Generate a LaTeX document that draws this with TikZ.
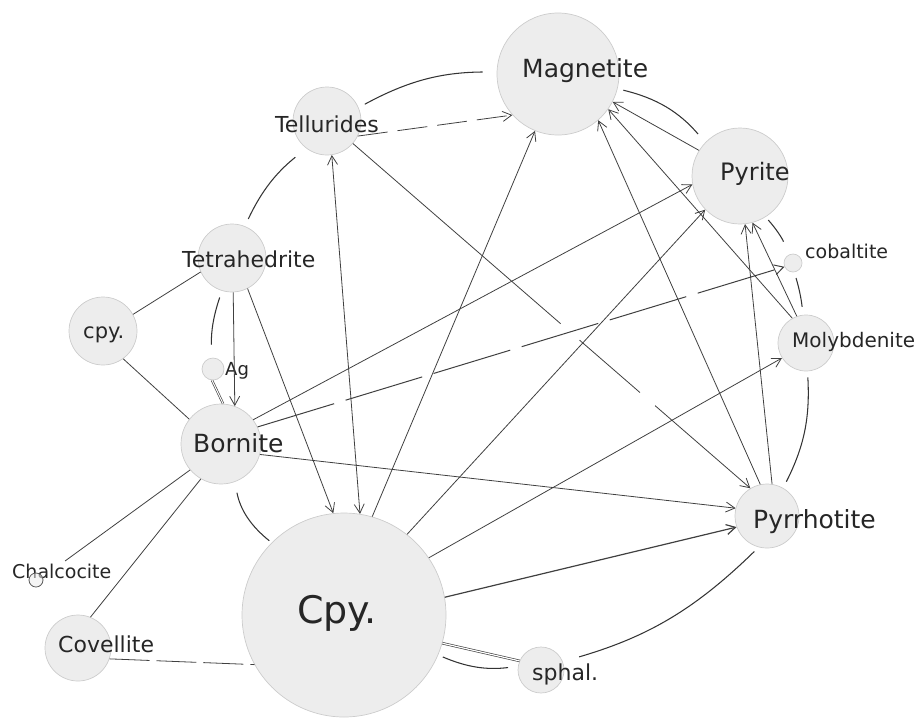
\documentclass[tikz,border=0pt]{standalone}
\usepackage{fontspec}
\setmainfont{DejaVu Sans}
\usetikzlibrary{arrows.meta}
\begin{document}
\begin{tikzpicture}[x=1pt,y=1pt,
  ball/.style={circle, fill=black!7, draw=black!20, line width=0.7pt, inner sep=0pt},
  lab/.style={anchor=base west, inner sep=0pt, text=black!85},
  ln/.style={draw=black!75, line width=0.8pt},
  ring/.style={draw=black!80, line width=1.05pt},
  arr/.style={-{Straight Barb[length=9pt,width=10pt]}},
  arrboth/.style={{Straight Barb[length=9pt,width=10pt]}-{Straight Barb[length=9pt,width=10pt]}},
]
\useasboundingbox (0,0) rectangle (917,-721);

% mineral circles
\node[ball, minimum size=122pt] (mag) at (558,-74) {};
\node[ball, minimum size=68pt] (tel) at (327,-121) {};
\node[ball, minimum size=96pt] (pyr) at (740,-176) {};
\node[ball, minimum size=18pt] (cob) at (793,-263) {};
\node[ball, minimum size=56pt] (mol) at (806,-343) {};
\node[ball, minimum size=64pt] (pyo) at (767,-516) {};
\node[ball, minimum size=68pt] (tet) at (232,-258) {};
\node[ball, minimum size=68pt] (cps) at (103,-331) {};
\node[ball, minimum size=22pt] (ag) at (213,-369) {};
\node[ball, minimum size=80pt] (bor) at (221,-444) {};
\node[ball, minimum size=66pt] (cov) at (78,-648) {};
\node[ball, minimum size=204pt] (cpy) at (344,-615) {};
\node[ball, minimum size=46pt] (sph) at (541,-670) {};

% labels
\node[lab, font=\fontsize{25}{30}\selectfont] (tmag) at (522,-77) {Magnetite};
\node[lab, font=\fontsize{22}{26}\selectfont] (ttel) at (275,-132) {Tellurides};
\node[lab, font=\fontsize{24}{28}\selectfont] (tpyr) at (720,-180) {Pyrite};
\node[lab, font=\fontsize{19}{22}\selectfont] (tcob) at (805,-258) {cobaltite};
\node[lab, font=\fontsize{20}{24}\selectfont] (tmol) at (792,-347) {Molybdenite};
\node[lab, font=\fontsize{25}{30}\selectfont] (tpyo) at (753,-528) {Pyrrhotite};
\node[lab, font=\fontsize{22}{26}\selectfont] (ttet) at (182,-267) {Tetrahedrite};
\node[lab, font=\fontsize{21}{25}\selectfont] (tcps) at (83,-338) {cpy.};
\node[lab, font=\fontsize{18}{22}\selectfont] (tag) at (225,-375) {Ag};
\node[lab, font=\fontsize{25}{30}\selectfont] (tbor) at (193,-452) {Bornite};
\node[lab, font=\fontsize{19}{22}\selectfont] (tchc) at (12,-578) {Chalcocite};
\node[lab, font=\fontsize{22}{26}\selectfont] (tcov) at (58,-652) {Covellite};
\node[lab, font=\fontsize{22}{26}\selectfont] (tsph) at (532,-680) {sphal.};
\node[lab, font=\fontsize{38}{44}\selectfont] (tcpy) at (297,-623) {Cpy.};

% small chalcocite circle drawn over its label
\node[ball, minimum size=14pt, draw=black!65, fill opacity=0.55, line width=0.8pt] (chc) at (36,-580) {};

% ring arcs
\draw[ring, shorten <=8pt, shorten >=14pt] (tet.68) to[bend left=13] (tel.233);
\draw[ring, shorten <=7pt, shorten >=14pt] (tel.23) to[bend left=14] (mag.178);
\draw[ring, shorten <=6pt, shorten >=11pt] (mag.-14) to[bend left=18] (pyr.136);
\draw[ring, shorten <=4pt, shorten >=14pt] (pyr.-58) to[bend left=10] (cob.118);
\draw[ring, shorten <=6pt, shorten >=8pt] (cob.-82) to[bend left=5] (mol.96);
\draw[ring, shorten <=6pt, shorten >=7pt] (mol.-87) to[bend left=15] (pyo.60);
\draw[ring, shorten <=6pt, shorten >=17pt] (pyo.-105) to[bend left=14] (sph.21);
\draw[ring, shorten <=10pt, shorten >=5pt] (sph.171) to[bend left=15] (cpy.-23);
\draw[ring, shorten <=3pt, shorten >=11pt] (cpy.135) to[bend left=20] (bor.-70);
\draw[ring, shorten <=13pt, shorten >=7pt] (ag.97) to[bend left=10] (tet.-107);

% double lines
\draw[ln, line width=0.65pt, double, double distance=1.2pt] (cpy.-16) -- (sph.157);
\draw[ln, line width=0.65pt, double, double distance=1pt] (bor.87) -- (ag.-95);

% plain lines
\draw[ln] (cps.29) -- (tet.204);
\draw[ln] (cps.-54) -- (bor.142);
\draw[ln, shorten >=4pt] (bor.220) -- (tchc.north);
\draw[ln] (bor.240) -- (cov.68);
\draw[ln, dash pattern=on 40pt off 7pt] (cov.-19) -- (cpy.209);

% arrows
\draw[ln, arr] (tet.-88) -- (bor.70);
\draw[ln, arr] (tet.-63) -- (cpy.96);
\draw[ln, arrboth] (tel.-82) -- (cpy.81);
\draw[ln, arr, dash pattern=on 30pt off 10pt] (tel.-26) -- (mag.222);
\draw[ln, arr, dash pattern=on 275pt off 25pt on 80pt off 20pt on 400pt off 1pt] (tel.-41) -- (pyo.121);
\draw[ln, arr] (cpy.74) -- (mag.-112);
\draw[ln, arr] (cpy.52) -- (pyr.224);
\draw[ln, arr] (cpy.34) -- (mol.212);
\draw[ln, arr, line width=1.2pt] (cpy.10) -- (pyo.200);
\draw[ln, arr] (bor.-15) -- (pyo.166);
\draw[ln, arr] (bor.37) -- (pyr.190);
\draw[ln, arr, line width=1pt, dash pattern=on 80pt off 12pt] (bor.25) -- (cob.204);
\draw[ln, arr] (pyo.102) -- (mag.-49);
\draw[ln, arr] (pyo.81) -- (pyr.-84);
\draw[ln, arr] (mol.109) -- (pyr.-75);
\draw[ln, arr] (mol.119) -- (mag.-35);
\draw[ln, arr] (pyr.148) -- (mag.-27);
\end{tikzpicture}
\end{document}
